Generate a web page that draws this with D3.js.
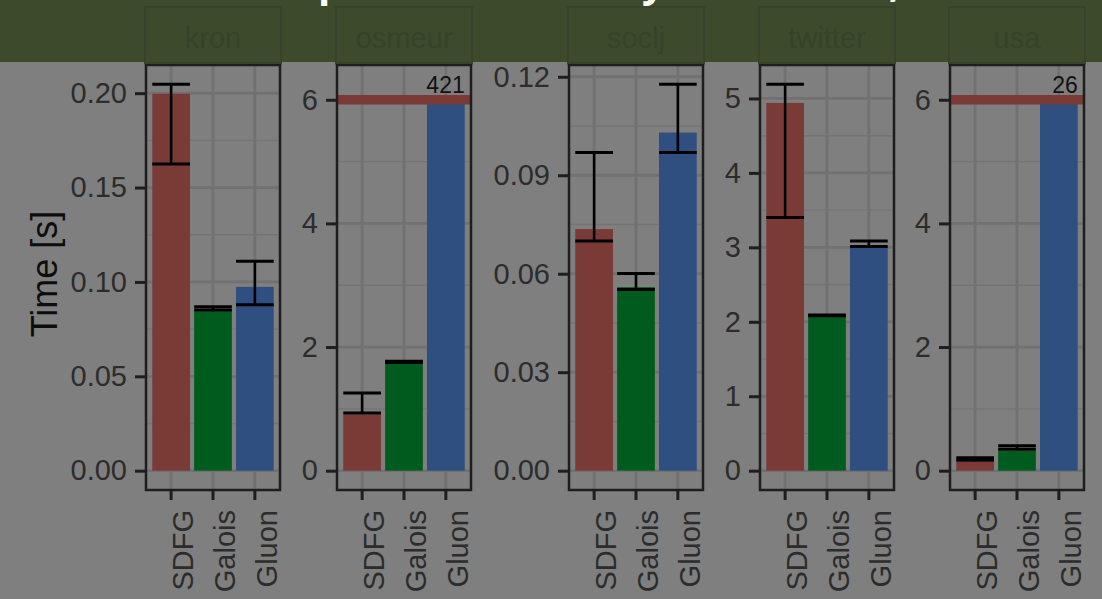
<!DOCTYPE html>
<html><head><meta charset="utf-8">
<script src="https://cdn.jsdelivr.net/npm/d3@7"></script>
<style>body{margin:0;background:#7f7f7f;} svg{display:block;}</style>
</head><body>
<script>
// ---- data ----
const datasets = ["kron", "osmeur", "soclj", "twitter", "usa"];
const frameworks = ["SDFG", "Galois", "Gluon"];
const sdfgTime   = [0.1997, 0.91, 0.0736, 4.94, 0.145];
const galoisTime = [0.0845, 1.74, 0.0559, 2.07, 0.32];
const gluonTime  = [0.0974, 421, 0.103, 3.00, 26];
const sdfgLo   = [0.1625, 0.935, 0.070, 3.40, 0.17];
const sdfgHi   = [0.2047, 1.257, 0.0969, 5.19, 0.21];
const galoisLo = [0.0851, 1.75, 0.0552, 2.08, 0.347];
const galoisHi = [0.0869, 1.77, 0.0601, 2.09, 0.405];
const gluonLo  = [0.0879, null, 0.0969, 3.01, null];
const gluonHi  = [0.111, null, 0.1177, 3.085, null];
const cutoff   = [null, 6, null, null, 6];
const cutLabelY = 6.25;
const yTicks = [
  [0, 0.05, 0.10, 0.15, 0.20],
  [0, 2, 4, 6],
  [0, 0.03, 0.06, 0.09, 0.12],
  [0, 1, 2, 3, 4, 5],
  [0, 2, 4, 6]
];
const yFormats = [".2f", "d", ".2f", "d", "d"];
const titleParts = ["Graph ", "Analytics ", "Tests, Galois and Gluon"];
const yTitle = "Time [s]";

// ---- layout / style ----
const W = 1102, H = 599;
const panelX = [146, 337, 569, 760, 950];
const panelW = 134, panelTop = 65, panelBottom = 490;
const colors = {SDFG: "#7a3b36", Galois: "#005b1e", Gluon: "#2f4f80"};
const fontFam = "'Liberation Sans', Arial, Helvetica, sans-serif";

const svg = d3.select("body").append("svg").attr("width", W).attr("height", H);
svg.append("rect").attr("width", W).attr("height", H).attr("fill", "#7f7f7f");

const series = [
  {name: "SDFG", v: sdfgTime, lo: sdfgLo, hi: sdfgHi},
  {name: "Galois", v: galoisTime, lo: galoisLo, hi: galoisHi},
  {name: "Gluon", v: gluonTime, lo: gluonLo, hi: gluonHi}
];

datasets.forEach((ds, i) => {
  const g = svg.append("g").attr("transform", `translate(${panelX[i]},0)`);
  const x = d3.scaleBand().domain(frameworks).range([0, panelW]).paddingInner(0.1).paddingOuter(0.15);
  let vals = [];
  series.forEach(s => {
    let v = s.v[i]; if (cutoff[i] != null) v = Math.min(v, cutoff[i]);
    vals.push(v);
    if (s.hi[i] != null) vals.push(s.hi[i]);
  });
  if (cutoff[i] != null) vals.push(cutLabelY);
  const mx = d3.max(vals);
  const y = d3.scaleLinear().domain([-0.05 * mx, 1.05 * mx]).range([panelBottom, panelTop]);

  // grid
  const ticks = yTicks[i];
  const step = ticks[1] - ticks[0];
  const minor = [];
  for (let t = ticks[0] + step / 2; t < y.domain()[1]; t += step) minor.push(t);
  g.selectAll(".minor").data(minor).enter().append("line")
    .attr("x1", 0).attr("x2", panelW).attr("y1", d => y(d)).attr("y2", d => y(d))
    .attr("stroke", "#747474").attr("stroke-width", 1.4);
  g.selectAll(".major").data(ticks).enter().append("line")
    .attr("x1", 0).attr("x2", panelW).attr("y1", d => y(d)).attr("y2", d => y(d))
    .attr("stroke", "#717171").attr("stroke-width", 2.8);
  g.selectAll(".vmajor").data(frameworks).enter().append("line")
    .attr("x1", d => x(d) + x.bandwidth() / 2).attr("x2", d => x(d) + x.bandwidth() / 2)
    .attr("y1", panelTop).attr("y2", panelBottom)
    .attr("stroke", "#717171").attr("stroke-width", 2.8);

  // bars
  series.forEach(s => {
    let v = s.v[i]; if (cutoff[i] != null) v = Math.min(v, cutoff[i]);
    g.append("rect").attr("x", x(s.name)).attr("width", x.bandwidth())
      .attr("y", y(v)).attr("height", y(0) - y(v)).attr("fill", colors[s.name]);
  });
  // error bars
  series.forEach(s => {
    if (s.lo[i] == null) return;
    const cx = x(s.name) + x.bandwidth() / 2;
    const eg = g.append("g").attr("stroke", "#000").attr("stroke-width", 3);
    eg.append("line").attr("x1", cx).attr("x2", cx).attr("y1", y(s.lo[i])).attr("y2", y(s.hi[i])).attr("stroke-width", 2.6);
    [s.lo[i], s.hi[i]].forEach(e => eg.append("line").attr("x1", x(s.name)).attr("x2", x(s.name) + x.bandwidth())
      .attr("y1", y(e)).attr("y2", y(e)));
  });
  // cutoff line and label
  if (cutoff[i] != null) {
    g.append("line").attr("x1", 0).attr("x2", panelW).attr("y1", y(cutoff[i])).attr("y2", y(cutoff[i]))
      .attr("stroke", colors.SDFG).attr("stroke-width", 9.5);
    g.append("text").attr("x", x("Gluon") + x.bandwidth()).attr("y", y(cutLabelY))
      .attr("dy", "0.36em").attr("text-anchor", "end")
      .attr("font-family", fontFam).attr("font-size", 23).attr("fill", "#111")
      .text(gluonTime[i]);
  }
  // border
  g.append("rect").attr("x", 0).attr("y", panelTop).attr("width", panelW).attr("height", panelBottom - panelTop)
    .attr("fill", "none").attr("stroke", "#1e1e1e").attr("stroke-width", 2.5);
  g.append("rect").attr("x", -1.2).attr("y", 61.5).attr("width", panelW + 2.4).attr("height", 4).attr("fill", "#1e1e1e");

  // y axis
  const ya = g.append("g").call(d3.axisLeft(y).tickValues(ticks).tickFormat(d3.format(yFormats[i])).tickSize(11).tickPadding(8));
  ya.select(".domain").remove();
  ya.selectAll(".tick line").attr("stroke", "#1e1e1e").attr("stroke-width", 3);
  ya.selectAll(".tick text").attr("font-family", fontFam).attr("font-size", 29).attr("fill", "#2c2c2c");

  // x axis
  const xa = g.append("g").attr("transform", `translate(0,${panelBottom})`)
    .call(d3.axisBottom(x).tickSize(10).tickPadding(0));
  xa.select(".domain").remove();
  xa.selectAll(".tick line").attr("stroke", "#1e1e1e").attr("stroke-width", 3);
  xa.selectAll(".tick text").attr("font-family", fontFam).attr("font-size", 29).attr("fill", "#2c2c2c")
    .attr("text-anchor", "end").attr("dy", 0).attr("y", 0)
    .attr("transform", "translate(22,20) rotate(-90)");
});

// y title
svg.append("text").attr("transform", "translate(57,274) rotate(-90)").attr("text-anchor", "middle")
  .attr("font-family", fontFam).attr("font-size", 36).attr("fill", "#0d0d0d").text(yTitle);

// header band
svg.append("rect").attr("x", 0).attr("y", 0).attr("width", W).attr("height", 62).attr("fill", "#3d4a2b");
datasets.forEach((ds, i) => {
  svg.append("rect").attr("x", panelX[i] - 1).attr("y", 7).attr("width", panelW + 2).attr("height", 56)
    .attr("fill", "none").attr("stroke", "#36422a").attr("stroke-width", 2);
  svg.append("text").attr("x", panelX[i] + panelW / 2).attr("y", 48).attr("text-anchor", "middle")
    .attr("font-family", fontFam).attr("font-size", 29).attr("fill", "#36422a").text(ds);
});

// slide title (cut off at the top; only descenders are visible)
const title = svg.append("text").attr("y", -3).attr("font-family", "'Open Sans', sans-serif")
  .attr("font-weight", 700).attr("font-size", 40).attr("fill", "#ffffff");
const tsp = titleParts.map(t => title.append("tspan").text(t));
const targets = [[3, 318], [4, 642], [5, 889]]; // char index within part, desired x
let base = 0;
targets.forEach(([idx, tx], k) => {
  const node = title.node();
  const cur = node.getStartPositionOfChar(base + idx).x;
  if (k === 0) title.attr("x", tx - cur);
  else tsp[k].attr("dx", tx - cur);
  base += titleParts[k].length;
});
</script>
</body></html>
